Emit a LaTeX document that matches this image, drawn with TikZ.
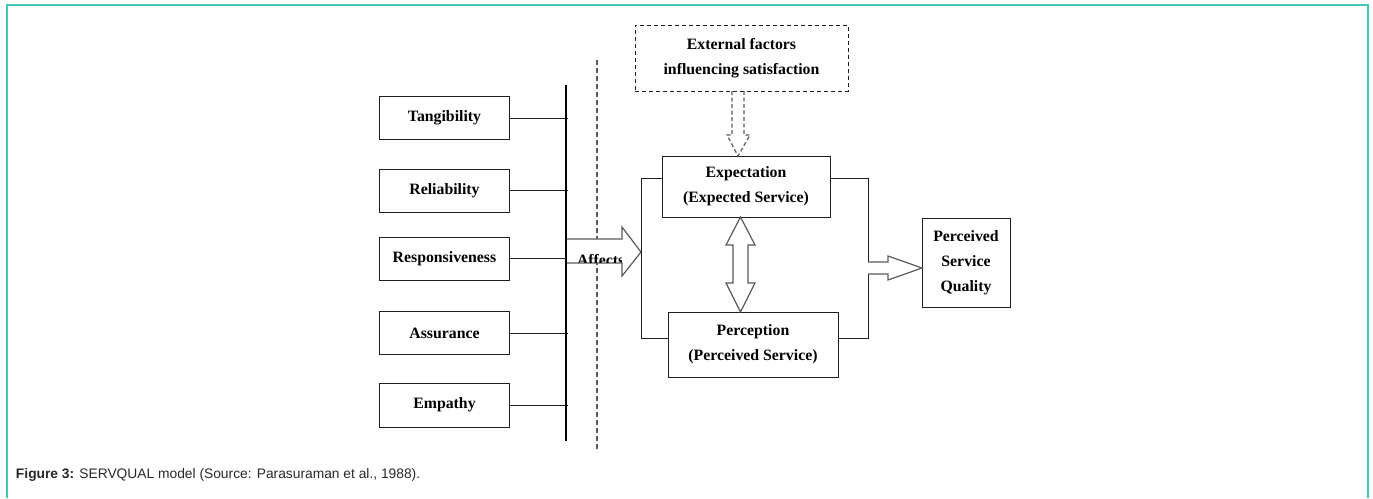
\documentclass[tikz,border=0pt]{standalone}
\usepackage{fontspec}
\setmainfont{Liberation Serif}
\newfontfamily\capfont{Liberation Sans}
\definecolor{frameteal}{RGB}{64,200,176}
\definecolor{linegray}{RGB}{90,90,90}
\definecolor{boxline}{RGB}{30,30,30}
\definecolor{captext}{RGB}{40,40,40}
\begin{document}
\begin{tikzpicture}[x=1pt,y=-1pt,
  every node/.style={inner sep=0pt, outer sep=0pt},
  txt/.style={font=\fontsize{15.8}{25}\selectfont\bfseries, text=black, align=center},
  factorbox/.style={txt, draw=boxline, line width=1pt, minimum width=130pt, minimum height=43pt},
  mainbox/.style={txt, draw=boxline, line width=1pt},
  extbox/.style={txt, draw=boxline, line width=1pt, dash pattern=on 4pt off 3pt},
  link/.style={draw=boxline, line width=1pt},
  hollowarrow/.style={draw=linegray, line width=1.2pt, fill=white, line join=miter},
  frameline/.style={draw=frameteal, line width=2pt}
]
\useasboundingbox (0,0) rectangle (1373,498);
% frame
\draw[frameline] (6.5,498) -- (6.5,4.5) -- (1368,4.5) -- (1368,498);

% factor boxes
\node[factorbox] (tang) at (444.5,118) {Tangibility};
\node[factorbox] (reli) at (444.5,190.5) {Reliability};
\node[factorbox] (resp) at (444.5,258.5) {Responsiveness};
\node[factorbox] (assu) at (444.5,333) {Assurance};
\node[factorbox, minimum height=44pt] (empa) at (444.5,405) {Empathy};

% bar
\coordinate (bartop) at (566,85);
\coordinate (barbot) at (566,441);
\foreach \n in {tang,reli,resp,assu,empa}{
  \draw[link] (\n.east) -- ([xshift=2pt]\n.east -| bartop);
}
\draw[draw=black, line width=2.6pt] (bartop) -- (barbot);

% dashed separator
\coordinate (septop) at (597,60);
\coordinate (sepbot) at (597,452);
\draw[draw=linegray, line width=1.3pt, dash pattern=on 5pt off 3pt] (septop) -- (sepbot);

% affects arrow
\path[hollowarrow] (566,239) -- (622,239) -- (622,227) -- (641,252) -- (622,276) -- (622,263) -- (566,263);
\begin{scope}
  \clip (567,239.6) rectangle (621,262.4);
  \node[txt, anchor=base west] (aff) at (577,265) {Affects};
\end{scope}
\draw[draw=black, line width=2.6pt] (566,236) -- (566,266);

% external factors
\node[extbox, minimum width=213pt, minimum height=66pt] (ext) at (741.5,58) {External factors\\influencing satisfaction};

% expectation / perception
\node[mainbox, minimum width=168pt, minimum height=61pt] (exp) at (746,186.5) {Expectation\\(Expected Service)};
\node[mainbox, minimum width=170pt, minimum height=65pt] (per) at (753,344.5) {Perception\\(Perceived Service)};
\node[mainbox, minimum width=88pt, minimum height=89pt] (psq) at (966,262.5) {Perceived\\Service\\Quality};

% dashed double arrow from external factors
\draw[draw=linegray, line width=1.2pt, dash pattern=on 4pt off 2.5pt, line join=miter]
  (ext.south -| 732,0) -- (732,135) -- (727,135) -- (exp.north -| 738,0) -- (750,135) -- (744,135) -- (ext.south -| 744,0);

% brackets
\draw[link] (exp.west |- 0,178) -- (641,178) -- (641,338) -- (per.west |- 0,338);
\draw[link] (exp.east |- 0,178) -- (868,178) -- (868,338) -- (per.east |- 0,338);

% double vertical arrow
\path[hollowarrow] (exp.south -| 740.5,0) -- (755,245) -- (748,245) -- (748,283) -- (755,283) -- (per.north -| 740.5,0) -- (726,283) -- (733,283) -- (733,245) -- (726,245) -- cycle;

% arrow to perceived service quality
\path[hollowarrow] (868,262) -- (888,262) -- (888,256) -- (psq.west |- 0,268) -- (888,280) -- (888,274) -- (868,274);

% caption
\node[anchor=base west, font=\capfont\fontsize{13.8}{16}\selectfont, text=captext] (cap) at (16,478) {\textbf{Figure 3:} SERVQUAL model (Source: Parasuraman et al., 1988).};
\end{tikzpicture}
\end{document}
